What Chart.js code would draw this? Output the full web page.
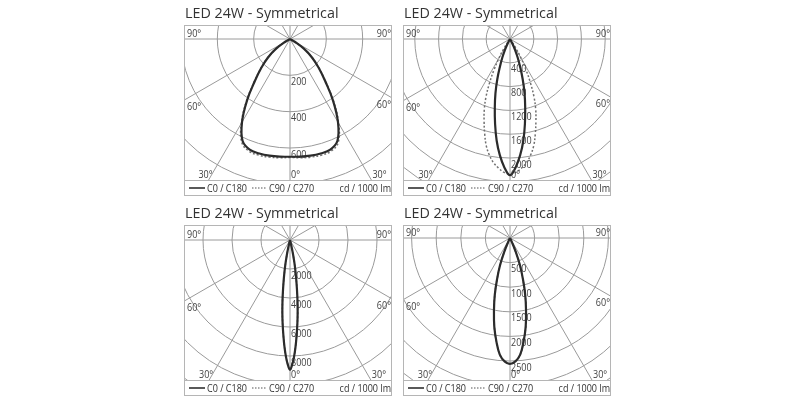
<!DOCTYPE html>
<html><head><meta charset="utf-8">
<script src="https://cdn.jsdelivr.net/npm/chart.js@4"></script>
<style>
html,body{margin:0;padding:0;background:#fff;width:800px;height:400px;overflow:hidden}
canvas{position:absolute}
</style></head><body>
<canvas id="c1" width="220" height="200" style="left:180px;top:0px"></canvas>
<canvas id="c2" width="220" height="200" style="left:398px;top:0px"></canvas>
<canvas id="c3" width="220" height="200" style="left:180px;top:200px"></canvas>
<canvas id="c4" width="220" height="200" style="left:398px;top:200px"></canvas>
<script>
// ---- text ----
const titleText = "LED 24W - Symmetrical";
const legendLabels = ["C0 / C180", "C90 / C270"];
const unitLabel = "cd / 1000 lm";
const angleLabels = ["90°", "60°", "30°", "0°"];

// ---- panel 1 (top left) ----
const p1Angles = [0, 5, 10, 15, 20, 25, 30, 35, 40, 45, 50, 55, 60, 65];
const p1C0  = [648, 650, 652, 652, 648, 618, 528, 412, 300, 222, 158, 95, 30, 0];
const p1C90 = [652, 656, 660, 662, 658, 628, 535, 418, 304, 225, 160, 96, 30, 0];
const p1Rings = [200, 400, 600, 800, 1000];
const p1RingLabels = [200, 400, 600];

// ---- panel 2 (top right) ----
const p2Angles = [0, 2.5, 5, 7.5, 10, 12.5, 15, 17.5, 20, 22.5, 25, 27.5, 30, 32.5, 35, 37.5];
const p2C0  = [2290, 2160, 1960, 1720, 1445, 1180, 945, 710, 495, 340, 200, 80, 0, 0, 0, 0];
const p2C90 = [2265, 2245, 2180, 2100, 1985, 1840, 1645, 1448, 1264, 1055, 813, 576, 370, 190, 60, 0];
const p2Rings = [400, 800, 1200, 1600, 2000, 2400, 2800];
const p2RingLabels = [400, 800, 1200, 1600, 2000];

// ---- panel 3 (bottom left) ----
const p3Angles = [0, 1, 2, 3, 4, 5, 6, 7, 8, 9, 10, 11, 12, 13, 14, 15];
const p3C0  = [8950, 8600, 8050, 7350, 6570, 5820, 5050, 4250, 3450, 2750, 2130, 1560, 1020, 560, 200, 0];
const p3C90 = [8950, 8600, 8050, 7350, 6570, 5820, 5050, 4250, 3450, 2750, 2130, 1560, 1020, 560, 200, 0];
const p3Rings = [2000, 4000, 6000, 8000, 10000, 12000];
const p3RingLabels = [2000, 4000, 6000, 8000];

// ---- panel 4 (bottom right) ----
const p4Angles = [0, 2.5, 5, 7.5, 10, 12.5, 15, 17.5, 20, 22.5, 25, 27.5];
const p4C0  = [2560, 2510, 2380, 2120, 1835, 1505, 1195, 870, 600, 300, 80, 0];
const p4C90 = [2560, 2510, 2380, 2120, 1835, 1505, 1195, 870, 600, 300, 80, 0];
const p4Rings = [500, 1000, 1500, 2000, 2500, 3000, 3500];
const p4RingLabels = [500, 1000, 1500, 2000, 2500];

const TITLE_FONT = '14.3px "Open Sans", sans-serif';
const SMALL_FONT = '11px "Open Sans", sans-serif';
const CONDENSE = 0.82;
const W = 220, H = 200;

function polarPoints(angles, values) {
  const pts = [];
  for (let i = angles.length - 1; i >= 0; i--) {
    const a = angles[i] * Math.PI / 180;
    pts.push({x: -values[i] * Math.sin(a), y: -values[i] * Math.cos(a)});
  }
  for (let i = 1; i < angles.length; i++) {
    const a = angles[i] * Math.PI / 180;
    pts.push({x: values[i] * Math.sin(a), y: -values[i] * Math.cos(a)});
  }
  return pts;
}

function smallText(ctx, t, x, y) {
  ctx.fillText(t, x, y, ctx.measureText(t).width * CONDENSE);
}

const polarGrid = {
  id: 'polarGrid',
  beforeDatasetsDraw(chart, args, o) {
    const {ctx, chartArea: a, scales: {x, y}} = chart;
    const cx = x.getPixelForValue(0), cy = y.getPixelForValue(0);
    ctx.save();
    ctx.beginPath(); ctx.rect(a.left, a.top, a.right - a.left, a.bottom - a.top); ctx.clip();
    ctx.strokeStyle = '#9a9a9a'; ctx.lineWidth = 1;
    o.rings.forEach(v => {
      const r = x.getPixelForValue(v) - cx;
      ctx.beginPath(); ctx.arc(cx, cy, r, 0, Math.PI * 2); ctx.stroke();
    });
    for (let d = 0; d < 360; d += 30) {
      const t = d * Math.PI / 180;
      ctx.beginPath(); ctx.moveTo(cx, cy);
      ctx.lineTo(cx + 500 * Math.sin(t), cy + 500 * Math.cos(t)); ctx.stroke();
    }
    ctx.fillStyle = '#444'; ctx.font = SMALL_FONT;
    ctx.textAlign = 'left'; ctx.textBaseline = 'top';
    o.ringLabels.forEach(v => {
      smallText(ctx, String(v), cx + 1, y.getPixelForValue(-v) + 1);
    });
    ctx.restore();
  },
  afterDraw(chart, args, o) {
    const {ctx, chartArea: a, scales: {x, y}} = chart;
    const cx = x.getPixelForValue(0), cy = y.getPixelForValue(0);
    const boxBottom = a.bottom + 15;
    ctx.save();
    // frame
    ctx.strokeStyle = '#b5b5b5'; ctx.lineWidth = 1;
    ctx.strokeRect(a.left + 0.5, a.top + 0.5, a.right - a.left - 1, boxBottom - a.top);
    ctx.beginPath(); ctx.moveTo(a.left, a.bottom + 0.5); ctx.lineTo(a.right, a.bottom + 0.5); ctx.stroke();
    // title
    ctx.fillStyle = '#333'; ctx.font = TITLE_FONT; ctx.textBaseline = 'alphabetic'; ctx.textAlign = 'left';
    ctx.fillText(titleText, a.left + 1, a.top - 7);
    // angle labels
    ctx.fillStyle = '#444'; ctx.font = SMALL_FONT;
    ctx.textAlign = 'left'; smallText(ctx, angleLabels[0], a.left + 3, cy - 2);
    ctx.textAlign = 'right'; smallText(ctx, angleLabels[0], a.right - 1, cy - 2);
    const y60l = cy + (cx - a.left) / Math.tan(Math.PI / 3);
    const y60r = cy + (a.right - cx) / Math.tan(Math.PI / 3);
    ctx.textAlign = 'left'; smallText(ctx, angleLabels[1], a.left + 3, y60l + 10);
    ctx.textAlign = 'right'; smallText(ctx, angleLabels[1], a.right - 1, y60r + 10);
    const dx30 = (a.bottom - cy) * Math.tan(Math.PI / 6);
    ctx.textAlign = 'right'; smallText(ctx, angleLabels[2], cx - dx30 + 4, a.bottom - 2);
    ctx.textAlign = 'left'; smallText(ctx, angleLabels[2], cx + dx30 + 1, a.bottom - 2);
    smallText(ctx, angleLabels[3], cx + 1, a.bottom - 2);
    // legend row
    const ly = a.bottom + 8;
    ctx.strokeStyle = '#222'; ctx.lineWidth = 1.5;
    ctx.beginPath(); ctx.moveTo(a.left + 5, ly); ctx.lineTo(a.left + 21, ly); ctx.stroke();
    ctx.fillStyle = '#333'; ctx.textAlign = 'left';
    smallText(ctx, legendLabels[0], a.left + 23, ly + 4);
    ctx.strokeStyle = '#555'; ctx.lineWidth = 1.2; ctx.setLineDash([1.5, 1.5]);
    ctx.beginPath(); ctx.moveTo(a.left + 68, ly); ctx.lineTo(a.left + 82, ly); ctx.stroke();
    ctx.setLineDash([]);
    smallText(ctx, legendLabels[1], a.left + 85, ly + 4);
    ctx.textAlign = 'right';
    smallText(ctx, unitLabel, a.right - 1, ly + 4);
    ctx.restore();
  }
};

function makeChart(id, p) {
  const left = p.pad.left, right = W - p.pad.right, top = p.pad.top, bottom = H - p.pad.bottom;
  const k = p.pxPerUnit;
  return new Chart(document.getElementById(id), {
    type: 'scatter',
    data: {datasets: [
      {label: legendLabels[0], data: polarPoints(p.angles, p.c0), showLine: true,
       borderColor: '#2b2b2b', borderWidth: 2.2, pointRadius: 0, tension: 0.4, fill: false},
      {label: legendLabels[1], data: polarPoints(p.angles, p.c90), showLine: true,
       borderColor: '#707070', borderWidth: 1.5, borderDash: [2, 2], pointRadius: 0, tension: 0.4, fill: false}
    ]},
    options: {
      responsive: false, animation: false, devicePixelRatio: 1,
      layout: {padding: p.pad},
      plugins: {legend: {display: false}, tooltip: {enabled: false}, title: {display: false},
                polarGrid: {rings: p.rings, ringLabels: p.ringLabels}},
      scales: {
        x: {type: 'linear', display: false, min: -(p.cx - left) / k, max: (right - p.cx) / k},
        y: {type: 'linear', display: false, min: -(bottom - p.cy) / k, max: (p.cy - top) / k}
      }
    },
    plugins: [polarGrid]
  });
}

makeChart('c1', {angles: p1Angles, c0: p1C0, c90: p1C90, rings: p1Rings, ringLabels: p1RingLabels,
  pxPerUnit: 0.1817, pad: {left: 4, top: 25, right: 8, bottom: 20}, cx: 110, cy: 39});
makeChart('c2', {angles: p2Angles, c0: p2C0, c90: p2C90, rings: p2Rings, ringLabels: p2RingLabels,
  pxPerUnit: 0.0595, pad: {left: 5, top: 25, right: 7, bottom: 20}, cx: 112, cy: 39});
makeChart('c3', {angles: p3Angles, c0: p3C0, c90: p3C90, rings: p3Rings, ringLabels: p3RingLabels,
  pxPerUnit: 0.0145, pad: {left: 4, top: 25, right: 8, bottom: 20}, cx: 110, cy: 40});
makeChart('c4', {angles: p4Angles, c0: p4C0, c90: p4C90, rings: p4Rings, ringLabels: p4RingLabels,
  pxPerUnit: 0.0492, pad: {left: 5, top: 25, right: 7, bottom: 20}, cx: 112, cy: 38});
</script>
</body></html>
